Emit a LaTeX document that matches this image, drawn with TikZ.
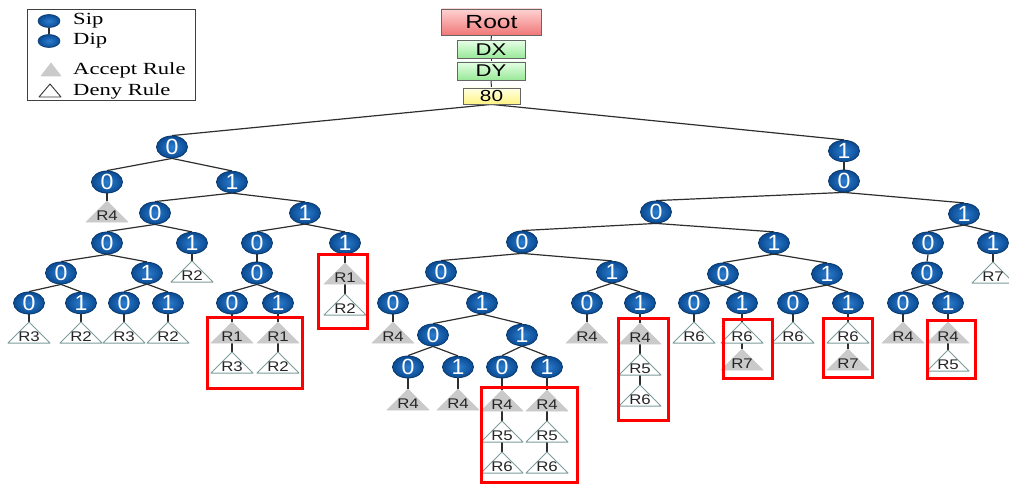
\documentclass[tikz,border=0pt]{standalone}
\usepackage{fontspec}
\newfontfamily\labfont{Liberation Sans}[FakeStretch=1.3]
\newfontfamily\rfont{Liberation Sans}[FakeStretch=1.2]
\newfontfamily\digfont{Liberation Sans}[FakeStretch=1.05]
\newfontfamily\legfont{Liberation Serif}[FakeStretch=1.33]
\usetikzlibrary{shapes.geometric,backgrounds}

\definecolor{bitin}{HTML}{2C7ED0}
\definecolor{bitout}{HTML}{0A4A92}
\definecolor{bitrim}{HTML}{08386C}
\definecolor{edgegray}{HTML}{2E2E2E}
\definecolor{accgray}{HTML}{CACACA}
\definecolor{denyline}{HTML}{7E9C9C}
\definecolor{rootA}{HTML}{FFD2D2}
\definecolor{rootB}{HTML}{F07878}
\definecolor{dimA}{HTML}{E4FFE4}
\definecolor{dimB}{HTML}{98E898}
\definecolor{portA}{HTML}{FFFFE4}
\definecolor{portB}{HTML}{FFF484}
\definecolor{hdrline}{HTML}{666666}

\tikzset{
  bit/.style={ellipse, draw=bitrim, line width=0.8pt, inner color=bitin,
    outer color=bitout, minimum width=31pt, minimum height=21pt,
    inner sep=0pt, text=white, font=\digfont\fontsize{22}{22}\selectfont},
  edge/.style={draw=edgegray, line width=1.2pt},
  acctri/.style={fill=accgray, draw=accgray, line width=0.6pt, line join=round},
  denytri/.style={fill=white, draw=denyline, line width=1pt, line join=round},
  rlabel/.style={font=\rfont\fontsize{14}{14}\selectfont,
    inner sep=0pt, anchor=base, text=black!85},
  redbox/.style={draw=red, line width=3pt},
  hdr/.style={rectangle, draw=hdrline, line width=0.8pt, inner sep=0pt,
    font=\labfont\fontsize{17}{17}\selectfont},
  legtext/.style={anchor=west, inner sep=0pt,
    font=\legfont\fontsize{17}{17}\selectfont},
  legbit/.style={ellipse, draw=bitrim, line width=0.6pt, inner color=bitin,
    outer color=bitout, minimum width=22pt, minimum height=13pt, inner sep=0pt},
}

% rule triangle: name, x, apex y, style, label
\newcommand\ruletri[5]{%
  \coordinate (#1) at (#2,#3);
  \coordinate (#1-b) at ([shift={(0,21)}]#1);
  \draw[#4] (#1) -- ++(21,21) -- ++(-42,0) -- cycle;
  \node[rlabel] (#1-l) at ([shift={(0,19.5)}]#1) {#5};
}

\begin{document}
\begin{tikzpicture}[x=1pt, y=-1pt]
\useasboundingbox (0,0) rectangle (1009,484);

% legend
\draw[line width=0.8pt, draw=black!75] (27,9) rectangle (195,100);
\node[legbit] (sip) at (49,21) {};
\node[legbit] (dip) at (49,41) {};
\begin{pgfonlayer}{background}
  \draw[edge] (sip) -- (dip);
\end{pgfonlayer}
\draw[acctri] (51,63) -- (61,76) -- (41,76) -- cycle;
\draw[denytri, line width=0.9pt, draw=black!80] (50,84) -- (61,97) -- (39,97) -- cycle;
\node[legtext] (l1) at (73,21) {Sip};
\node[legtext] (l2) at (73,41) {Dip};
\node[legtext] (l3) at (73,70) {Accept Rule};
\node[legtext] (l4) at (73,91) {Deny Rule};

% header chain
\node[hdr, top color=rootA, bottom color=rootB, minimum width=100pt,
  minimum height=26pt, font=\labfont\fontsize{19}{19}\selectfont] (root) at (491.5,22) {Root};
\node[hdr, top color=dimA, bottom color=dimB, minimum width=68pt,
  minimum height=17.5pt] (dx) at (491,49.5) {DX};
\node[hdr, top color=dimA, bottom color=dimB, minimum width=68pt,
  minimum height=18pt] (dy) at (491,71) {DY};
\node[hdr, top color=portA, bottom color=portB, minimum width=57pt,
  minimum height=16pt, font=\labfont\fontsize{16}{16}\selectfont] (n80) at (491.5,96) {80};

% left subtree
\node[bit] (a0) at (172,147) {0};
\node[bit] (a00) at (107,182) {0};
\node[bit] (a01) at (232,182) {1};
\node[bit] (a010) at (155,213) {0};
\node[bit] (a011) at (305,213) {1};
\node[bit] (a0100) at (107,243) {0};
\node[bit] (a0101) at (192,243) {1};
\node[bit] (a01000) at (61,273) {0};
\node[bit] (a01001) at (147,273) {1};
\node[bit] (a010000) at (29,303) {0};
\node[bit] (a010001) at (81,303) {1};
\node[bit] (a010010) at (124,303) {0};
\node[bit] (a010011) at (168,303) {1};
\node[bit] (a0110) at (257,243) {0};
\node[bit] (a0111) at (345,243) {1};
\node[bit] (a01100) at (257,273) {0};
\node[bit] (a011000) at (232,303) {0};
\node[bit] (a011001) at (278,303) {1};

% right subtree
\node[bit] (b1) at (844,151) {1};
\node[bit] (b10) at (844,181) {0};
\node[bit] (b100) at (656,212) {0};
\node[bit] (b101) at (964,214) {1};
\node[bit] (b1000) at (522,242) {0};
\node[bit] (b1001) at (774,243) {1};
\node[bit] (b10000) at (441,272) {0};
\node[bit] (b10001) at (612,272) {1};
\node[bit] (b100000) at (393,303) {0};
\node[bit] (b100001) at (482,303) {1};
\node[bit] (b1000010) at (433,335) {0};
\node[bit] (b1000011) at (522,335) {1};
\node[bit] (b10000100) at (408,367) {0};
\node[bit] (b10000101) at (458,367) {1};
\node[bit] (b10000110) at (502,367) {0};
\node[bit] (b10000111) at (547,367) {1};
\node[bit] (b100010) at (587,303) {0};
\node[bit] (b100011) at (640,303) {1};
\node[bit] (b10010) at (723,274) {0};
\node[bit] (b10011) at (827,274) {1};
\node[bit] (b100100) at (694,303) {0};
\node[bit] (b100101) at (742,303) {1};
\node[bit] (b100110) at (793,303) {0};
\node[bit] (b100111) at (848,303) {1};
\node[bit] (b1010) at (928,243) {0};
\node[bit] (b1011) at (993,243) {1};
\node[bit] (b10100) at (927,273) {0};
\node[bit] (b101000) at (903,303) {0};
\node[bit] (b101001) at (948,303) {1};

% rule leaves
\ruletri{r1}{107}{201}{acctri}{R4}
\ruletri{r2}{29}{322}{denytri}{R3}
\ruletri{r3}{81}{322}{denytri}{R2}
\ruletri{r4}{124}{322}{denytri}{R3}
\ruletri{r5}{168}{322}{denytri}{R2}
\ruletri{r6}{192}{261}{denytri}{R2}
\ruletri{r7}{232}{322}{acctri}{R1}
\ruletri{r8}{232}{352}{denytri}{R3}
\ruletri{r9}{278}{322}{acctri}{R1}
\ruletri{r10}{278}{352}{denytri}{R2}
\ruletri{r11}{345}{263}{acctri}{R1}
\ruletri{r12}{345}{294}{denytri}{R2}

\ruletri{s1}{393}{322}{acctri}{R4}
\ruletri{s2}{408}{389}{acctri}{R4}
\ruletri{s3}{458}{389}{acctri}{R4}
\ruletri{s4}{502}{390}{acctri}{R4}
\ruletri{s5}{502}{421}{denytri}{R5}
\ruletri{s6}{502}{452}{denytri}{R6}
\ruletri{s7}{547}{390}{acctri}{R4}
\ruletri{s8}{547}{421}{denytri}{R5}
\ruletri{s9}{547}{452}{denytri}{R6}
\ruletri{s10}{587}{322}{acctri}{R4}
\ruletri{s11}{640}{323}{acctri}{R4}
\ruletri{s12}{640}{354}{denytri}{R5}
\ruletri{s13}{640}{385}{denytri}{R6}
\ruletri{s14}{694}{322}{denytri}{R6}
\ruletri{s15}{742}{322}{denytri}{R6}
\ruletri{s16}{742}{349}{acctri}{R7}
\ruletri{s17}{793}{322}{denytri}{R6}
\ruletri{s18}{848}{322}{denytri}{R6}
\ruletri{s19}{848}{349}{acctri}{R7}
\ruletri{s20}{903}{322}{acctri}{R4}
\ruletri{s21}{948}{322}{acctri}{R4}
\ruletri{s22}{948}{350}{denytri}{R5}
\ruletri{s23}{993}{262}{denytri}{R7}

% connectors
\begin{pgfonlayer}{background}
  \draw[edge, line width=1pt] (root.south) -- (dx.north);
  \draw[edge, line width=1pt] (dx.south) -- (dy.north);
  \draw[edge, line width=1pt] (dy.south) -- (n80.north);
  \draw[edge] (n80.south) -- (a0.north);
  \draw[edge] (n80.south) -- (b1.north);
  \foreach \p/\c in {a0/a00, a0/a01, a01/a010, a01/a011, a010/a0100,
      a010/a0101, a0100/a01000, a0100/a01001, a01000/a010000,
      a01000/a010001, a01001/a010010, a01001/a010011, a011/a0110,
      a011/a0111, a0110/a01100, a01100/a011000, a01100/a011001,
      b1/b10, b10/b100, b10/b101, b100/b1000, b100/b1001, b1000/b10000,
      b1000/b10001, b10000/b100000, b10000/b100001, b100001/b1000010,
      b100001/b1000011, b1000010/b10000100, b1000010/b10000101,
      b1000011/b10000110, b1000011/b10000111, b10001/b100010,
      b10001/b100011, b1001/b10010, b1001/b10011, b10010/b100100,
      b10010/b100101, b10011/b100110, b10011/b100111, b101/b1010,
      b101/b1011, b1010/b10100, b10100/b101000, b10100/b101001}
    \draw[edge] (\p.south) -- (\c.north);
  \foreach \p/\t in {a00/r1, a010000/r2, a010001/r3, a010010/r4,
      a010011/r5, a0101/r6, a011000/r7, a011001/r9, a0111/r11,
      b100000/s1, b10000100/s2, b10000101/s3, b10000110/s4,
      b10000111/s7, b100010/s10, b100011/s11, b100100/s14,
      b100101/s15, b100110/s17, b100111/s18, b101000/s20,
      b101001/s21, b1011/s23}
    \draw[edge] (\p.south) -- (\t);
  \foreach \a/\b in {r7/r8, r9/r10, r11/r12, s4/s5, s5/s6, s7/s8,
      s8/s9, s11/s12, s12/s13, s15/s16, s18/s19, s21/s22}
    \draw[edge] (\a-b) -- (\b);
\end{pgfonlayer}

% highlighted rule chains
\draw[redbox] (207,317) rectangle (302,388);
\draw[redbox] (318,254) rectangle (367,328);
\draw[redbox] (481,387) rectangle (577,482);
\draw[redbox] (618,318) rectangle (668,420);
\draw[redbox] (723,319) rectangle (772,378);
\draw[redbox] (823,318) rectangle (872,377);
\draw[redbox] (927,320) rectangle (975,378);
\end{tikzpicture}
\end{document}
